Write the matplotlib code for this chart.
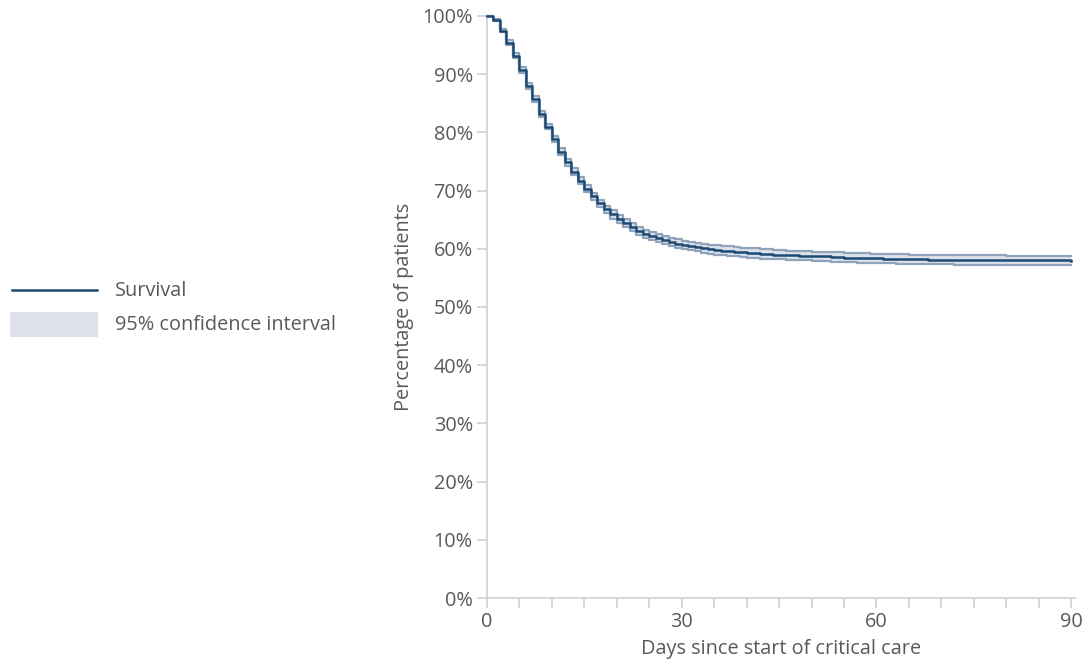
import matplotlib
matplotlib.use("Agg")
import matplotlib.pyplot as plt
from matplotlib.lines import Line2D
from matplotlib.patches import Rectangle

# ─── Data ────────────────────────────────────────────────────────────────────

days = [0, 1, 2, 3, 4, 5, 6, 7, 8, 9, 10, 11, 12, 13, 14, 15, 16, 17, 18, 19,
        20, 21, 22, 23, 24, 25, 26, 27, 28, 29, 30, 31, 32, 33, 34, 35, 36, 37,
        38, 39, 40, 42, 44, 46, 48, 50, 53, 55, 57, 59, 61, 63, 65, 68, 72, 76,
        80, 85, 90]
survival = [100.0, 99.3, 97.5, 95.4, 93.2, 90.7, 88.0, 85.7, 83.2, 81.0, 78.8,
            76.7, 74.9, 73.2, 71.7, 70.3, 69.0, 67.8, 66.8, 65.9, 65.1, 64.4,
            63.7, 63.1, 62.6, 62.2, 61.8, 61.5, 61.2, 60.9, 60.7, 60.5, 60.3,
            60.1, 59.9, 59.8, 59.7, 59.6, 59.5, 59.4, 59.3, 59.1, 59.0, 58.9,
            58.8, 58.7, 58.6, 58.5, 58.4, 58.35, 58.3, 58.25, 58.2, 58.15,
            58.1, 58.05, 58.0, 58.0, 57.95]
ci_half = [0.0, 0.2, 0.3, 0.4, 0.4, 0.5, 0.5, 0.5, 0.5, 0.5, 0.5, 0.6, 0.6,
           0.6, 0.6, 0.6, 0.6, 0.6, 0.6, 0.7, 0.7, 0.7, 0.7, 0.7, 0.7, 0.7,
           0.7, 0.7, 0.7, 0.7, 0.7, 0.7, 0.7, 0.8, 0.8, 0.8, 0.8, 0.8, 0.8,
           0.8, 0.8, 0.8, 0.8, 0.8, 0.8, 0.8, 0.8, 0.8, 0.8, 0.8, 0.8, 0.8,
           0.8, 0.8, 0.8, 0.8, 0.8, 0.8, 0.8]

y_ticks = [0, 10, 20, 30, 40, 50, 60, 70, 80, 90, 100]
x_labels = [0, 30, 60, 90]
x_minor = list(range(0, 91, 5))

# ─── Style ───────────────────────────────────────────────────────────────────

NAVY = "#1d4a74"
CI_LINE = "#8fa3bb"
CI_FILL = "#dde2ea"
TEXT = "#595959"
AXIS = "#d0d0d0"
FS = 14.3

plt.rcParams["font.family"] = ["Open Sans", "DejaVu Sans"]

W, H = 1086, 661
fig = plt.figure(figsize=(W / 100, H / 100), dpi=100)
ax = fig.add_axes([487 / W, 63 / H, 588 / W, 582 / H])

lower = [s - h for s, h in zip(survival, ci_half)]
upper = [s + h for s, h in zip(survival, ci_half)]

ax.fill_between(days, lower, upper, step="post", color=CI_FILL, lw=0, zorder=1)
ax.step(days, upper, where="post", color=CI_LINE, lw=1.6, zorder=2, clip_on=False)
ax.step(days, lower, where="post", color=CI_LINE, lw=1.6, zorder=2, clip_on=False)
ax.step(days, survival, where="post", color=NAVY, lw=1.8, zorder=3, clip_on=False)

ax.set_xlim(0, 90.6)
ax.set_ylim(0, 100)

ax.set_yticks(y_ticks)
ax.set_yticklabels([f"{v}%" for v in y_ticks])
ax.set_xticks(x_minor)
ax.set_xticklabels([str(v) if v in x_labels else "" for v in x_minor])

for side in ["top", "right"]:
    ax.spines[side].set_visible(False)
for side in ["left", "bottom"]:
    ax.spines[side].set_color(AXIS)
    ax.spines[side].set_linewidth(1.2)

ax.tick_params(axis="y", colors=AXIS, labelcolor=TEXT, labelsize=FS,
               length=7.2, width=1.2, pad=3)
ax.tick_params(axis="x", colors=AXIS, labelcolor=TEXT, labelsize=FS,
               length=7.2, width=1.2, pad=3)

ax.set_ylabel("Percentage of patients", color=TEXT, fontsize=FS, labelpad=6)
ax.set_xlabel("Days since start of critical care", color=TEXT, fontsize=FS,
              labelpad=5)

# ─── Legend (left side) ──────────────────────────────────────────────────────

fig.add_artist(Line2D([12 / W, 97 / W], [1 - 290 / H, 1 - 290 / H],
                      color=NAVY, lw=1.8, transform=fig.transFigure))
fig.add_artist(Rectangle((10 / W, 1 - 337 / H), 88 / W, 25 / H,
                         color=CI_FILL, lw=0, transform=fig.transFigure))
fig.text(115 / W, 1 - 291 / H, "Survival", color=TEXT, fontsize=FS,
         va="center", ha="left")
fig.text(115 / W, 1 - 325 / H, "95% confidence interval", color=TEXT,
         fontsize=FS, va="center", ha="left")

fig.savefig("out.png", dpi=100)
